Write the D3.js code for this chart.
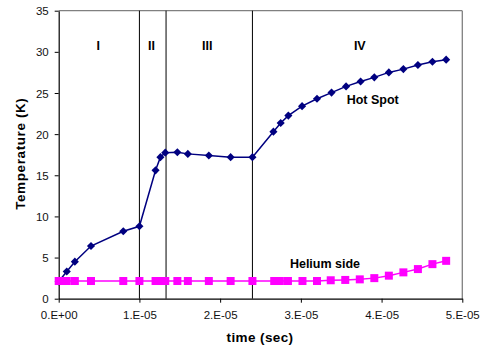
<!DOCTYPE html>
<html><head><meta charset="utf-8">
<script src="https://cdn.jsdelivr.net/npm/d3@7/dist/d3.min.js"></script>
<style>body{margin:0;background:#fff}svg{display:block}text{font-family:"Liberation Sans",Arial,sans-serif}</style>
</head><body>
<svg id="c" width="483" height="348"></svg>
<script>
const hotTime = [0,1,2,4,8,10,12,12.6,13.2,14.7,16,18.6,21.3,24,26.6,27.5,28.45,30.15,32,33.8,35.6,37.4,39.1,40.9,42.7,44.5,46.3,48.0];
const hotTemp = [2.1,3.3,4.5,6.4,8.2,8.8,15.6,17.2,17.75,17.8,17.6,17.4,17.2,17.2,20.3,21.35,22.25,23.4,24.3,25.05,25.8,26.4,26.9,27.5,27.9,28.4,28.8,29.05];
const heTime = [0,0.5,1,2,4,8,10,12,12.6,13.2,14.7,16,18.6,21.3,24,26.7,27.4,28.4,30.2,32,33.7,35.5,37.3,39.1,40.9,42.7,44.5,46.3,48.0];
const heTemp = [2.15,2.15,2.15,2.15,2.15,2.15,2.15,2.15,2.15,2.15,2.15,2.15,2.15,2.15,2.15,2.15,2.15,2.15,2.15,2.15,2.24,2.28,2.35,2.5,2.8,3.2,3.6,4.2,4.6];
const phaseLines = [10,13.3,24];
const phaseLabels = [{t:"I",x:4.9},{t:"II",x:11.5},{t:"III",x:18.4},{t:"IV",x:37.3}];
const xTicks = [0,10,20,30,40,50];
const xTickLabels = ["0.E+00","1.E-05","2.E-05","3.E-05","4.E-05","5.E-05"];
const yTicks = [0,5,10,15,20,25,30,35];

const svg = d3.select("#c");
const L=58.7,R=462.3,T=10.7,B=298.7;
const x = d3.scaleLinear().domain([0,50]).range([L,R]);
const y = d3.scaleLinear().domain([0,35]).range([B,T]);

// frame top/right gray
svg.append("line").attr("x1",L).attr("x2",R).attr("y1",T).attr("y2",T).attr("stroke","#808080").attr("stroke-width",1.3);
svg.append("line").attr("x1",R).attr("x2",R).attr("y1",T).attr("y2",B).attr("stroke","#808080").attr("stroke-width",1.3);

const xa = svg.append("g").attr("transform",`translate(0,${B})`)
  .call(d3.axisBottom(x).tickValues(xTicks).tickFormat((d,i)=>xTickLabels[i]).tickSize(4).tickSizeOuter(0));
const ya = svg.append("g").attr("transform",`translate(${L},0)`)
  .call(d3.axisLeft(y).tickValues(yTicks).tickSize(4).tickSizeOuter(0));
[xa,ya].forEach(g=>{g.select(".domain").attr("stroke","#000").attr("stroke-width",1.2);
  g.selectAll(".tick line").attr("stroke","#000");
  g.selectAll("text").attr("font-size",11.5).attr("fill","#111").attr("font-family","Liberation Sans, Arial, sans-serif");});
xa.selectAll("text").attr("dy",null).attr("y",20);
ya.selectAll("text").attr("x",-10).attr("dy","0.36em");

svg.selectAll(".phase").data(phaseLines).enter().append("line")
  .attr("x1",d=>x(d)).attr("x2",d=>x(d)).attr("y1",T).attr("y2",B).attr("stroke","#000").attr("stroke-width",1);
svg.selectAll(".plab").data(phaseLabels).enter().append("text")
  .attr("x",d=>x(d.x)).attr("y",49.5).attr("text-anchor","middle").attr("font-weight","bold").attr("font-size",12.5).text(d=>d.t);

const line = d3.line().x(d=>x(d[0])).y(d=>y(d[1]));
const hot = hotTime.map((t,i)=>[t,hotTemp[i]]);
const he = heTime.map((t,i)=>[t,heTemp[i]]);
svg.append("path").datum(hot).attr("d",line).attr("fill","none").attr("stroke","#000080").attr("stroke-width",1.5);
svg.selectAll(".dia").data(hot).enter().append("path")
  .attr("d",d3.symbol().type(d3.symbolDiamond2).size(42))
  .attr("transform",d=>`translate(${x(d[0])},${y(d[1])}) rotate(0)`).attr("fill","#000080");
svg.append("path").datum(he).attr("d",line).attr("fill","none").attr("stroke","#FF00FF").attr("stroke-width",1.5);
svg.selectAll(".sq").data(he).enter().append("rect")
  .attr("x",d=>x(d[0])-4).attr("y",d=>y(d[1])-4).attr("width",8).attr("height",8).attr("fill","#FF00FF");

svg.append("text").attr("x",372.7).attr("y",104).attr("text-anchor","middle").attr("font-weight","bold").attr("font-size",12.5).text("Hot Spot");
svg.append("text").attr("x",325).attr("y",268).attr("text-anchor","middle").attr("font-weight","bold").attr("font-size",12.5).text("Helium side");
svg.append("text").attr("x",260).attr("y",342).attr("text-anchor","middle").attr("font-weight","bold").attr("font-size",13.5).attr("letter-spacing",0.4).text("time (sec)");
svg.append("text").attr("transform","translate(24.5,153.7) rotate(-90)").attr("text-anchor","middle").attr("font-weight","bold").attr("font-size",13.5).attr("letter-spacing",0.6).text("Temperature (K)");
</script>
</body></html>
